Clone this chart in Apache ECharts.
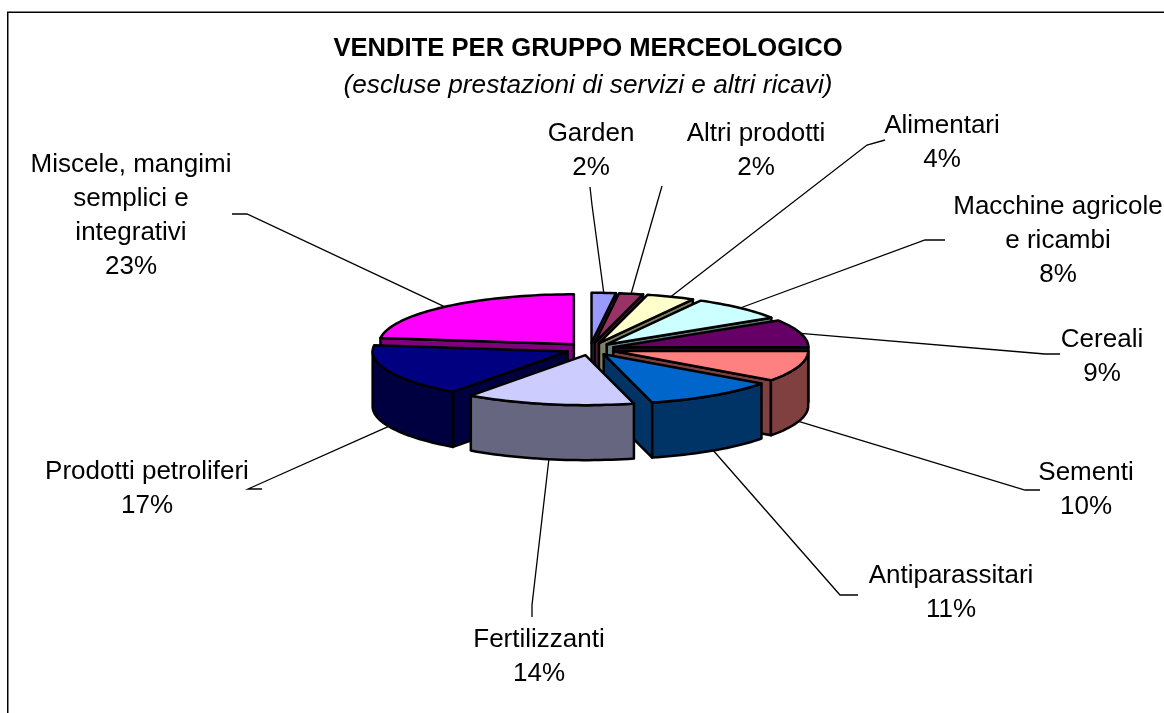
<!DOCTYPE html>
<html>
<head>
<meta charset="utf-8">
<title>Vendite per gruppo merceologico</title>
<style>
html, body { margin: 0; padding: 0; background: #fff; }
#canvas { width: 1164px; height: 713px; }
</style>
<script src="https://cdn.jsdelivr.net/npm/echarts@6/dist/echarts.min.js"></script>
</head>
<body>
<div id="canvas"></div>
<script>
// clockwise from 12 o'clock
var categories = ['Garden', 'Altri prodotti', 'Alimentari', 'Macchine agricole\ne ricambi', 'Cereali',
    'Sementi', 'Antiparassitari', 'Fertilizzanti', 'Prodotti petroliferi', 'Miscele, mangimi\nsemplici e\nintegrativi'];
var values = [2, 2, 4, 8, 9, 10, 11, 14, 17, 23];
var topColors = ['#9999ff', '#993366', '#ffffcc', '#ccffff', '#660066', '#ff8080', '#0066cc', '#ccccff', '#000080', '#ff00ff'];
var sideColors = ['#4d4d80', '#4d1a33', '#808066', '#668080', '#330033', '#804040', '#003366', '#666680', '#000040', '#800080'];

// layout only: label centre + top of first line, then elbow of the leader line
var labelPos = [[591, 117], [756, 117], [942, 109], [1058, 190], [1102, 323], [1086, 456], [951, 559], [539, 623], [147, 455], [131, 148]];
var elbows = [
    [[590, 187], [592, 205]],
    [[662, 186], [662, 186]],
    [[885, 140], [867, 145]],
    [[945, 240], [925, 240]],
    [[1060, 354], [1045, 354]],
    [[1040, 490], [1025, 490]],
    [[858, 595], [840, 595]],
    [[532, 617], [532, 605]],
    [[262, 489], [248, 489]],
    [[232, 214], [247, 214]]
];

var cx = 590, cy = 349, rx = 195, ry = 50, depth = 55, explode = 0.125;
var FONT = '"Liberation Sans", Arial, sans-serif';

var total = values.reduce(function (a, b) { return a + b; }, 0);
var slices = [];
var acc = 0;
for (var i = 0; i < values.length; i++) {
    var a0 = acc / total * 2 * Math.PI;
    acc += values[i];
    var a1 = acc / total * 2 * Math.PI;
    var mid = (a0 + a1) / 2;
    slices.push({
        index: i, a0: a0, a1: a1, mid: mid,
        ax: cx + rx * explode * Math.sin(mid),
        ay: cy - ry * explode * Math.cos(mid)
    });
}

function rim(s, a) {
    return [s.ax + rx * Math.sin(a), s.ay - ry * Math.cos(a)];
}

function arcPoints(s, from, to) {
    var pts = [];
    var n = Math.max(2, Math.ceil((to - from) / 0.03));
    for (var k = 0; k <= n; k++) pts.push(rim(s, from + (to - from) * k / n));
    return pts;
}

function drop(pts) {
    return pts.map(function (p) { return [p[0], p[1] + depth]; });
}

function face(pts, color) {
    return {
        type: 'polygon',
        shape: {points: pts},
        style: {fill: color, stroke: '#000', lineWidth: 2.5, lineJoin: 'round'}
    };
}

// back to front, so nearer slices cover the farther ones
var drawOrder = slices.slice().sort(function (a, b) {
    return Math.cos(b.mid) - Math.cos(a.mid);
});

var renderSlice = function (params, api) {
    var s = slices[api.value(0)];
    var side = sideColors[s.index];
    var children = [];
    var apex = [s.ax, s.ay];
    if (Math.sin(s.a0) < -1e-6) {
        var q = rim(s, s.a0);
        children.push(face([apex, q, [q[0], q[1] + depth], [apex[0], apex[1] + depth]], side));
    }
    if (Math.sin(s.a1) > 1e-6) {
        var r = rim(s, s.a1);
        children.push(face([apex, r, [r[0], r[1] + depth], [apex[0], apex[1] + depth]], side));
    }
    var from = Math.max(s.a0, Math.PI / 2), to = Math.min(s.a1, Math.PI * 1.5);
    if (to > from) {
        var arc = arcPoints(s, from, to);
        children.push(face(arc.concat(drop(arc).reverse()), side));
    }
    children.push(face([apex].concat(arcPoints(s, s.a0, s.a1)), topColors[s.index]));
    return {type: 'group', children: children};
};

var renderLeader = function (params, api) {
    var i = api.value(0);
    var s = slices[i];
    var end = rim(s, s.mid);
    if (Math.cos(s.mid) < 0) end = [end[0], end[1] + depth];
    var pts = elbows[i].concat([end]);
    return {
        type: 'group',
        children: [
            {type: 'polyline', shape: {points: pts}, style: {fill: 'none', stroke: '#000', lineWidth: 1.3}},
            {
                type: 'text',
                x: labelPos[i][0],
                y: labelPos[i][1],
                style: {
                    text: categories[i] + '\n' + values[i] + '%',
                    align: 'center',
                    verticalAlign: 'top',
                    font: '26px ' + FONT,
                    lineHeight: 34,
                    fill: '#000'
                }
            }
        ]
    };
};

var myChart = echarts.init(document.getElementById('canvas'));
var option = {
    animation: false,
    backgroundColor: '#fff',
    title: {
        text: 'VENDITE PER GRUPPO MERCEOLOGICO',
        subtext: '(escluse prestazioni di servizi e altri ricavi)',
        left: 583,
        top: 31,
        textAlign: 'center',
        itemGap: 11,
        textStyle: {fontFamily: FONT, fontSize: 25.6, fontWeight: 'bold', color: '#000'},
        subtextStyle: {fontFamily: FONT, fontSize: 26.2, fontStyle: 'italic', color: '#000'}
    },
    graphic: [{
        type: 'rect',
        silent: true,
        shape: {x: 7.75, y: 12.25, width: 1300, height: 900},
        style: {fill: 'none', stroke: '#000', lineWidth: 1.5}
    }],
    series: [
        {
            type: 'custom',
            coordinateSystem: 'none',
            z: 1,
            renderItem: renderLeader,
            data: slices.map(function (s) { return [s.index]; })
        },
        {
            type: 'custom',
            coordinateSystem: 'none',
            z: 2,
            renderItem: renderSlice,
            data: drawOrder.map(function (s) { return [s.index]; })
        }
    ]
};
myChart.setOption(option);
</script>
</body>
</html>
